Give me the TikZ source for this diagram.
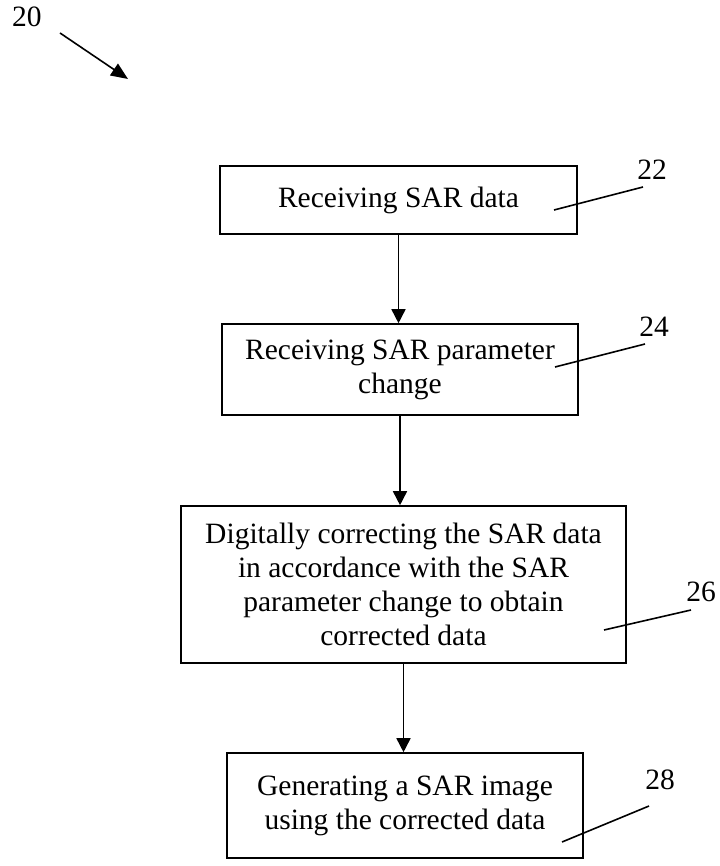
\documentclass[tikz,border=0pt]{standalone}
\usepackage{fontspec}
\setmainfont{Liberation Serif}
\usetikzlibrary{arrows.meta}
\begin{document}
\begin{tikzpicture}[x=1pt,y=-1pt,
  box/.style={draw, line width=1.6pt, align=center, inner sep=0pt,
    font=\fontsize{29.5}{34}\selectfont},
  lbl/.style={inner sep=0pt, font=\fontsize{29.5}{34}\selectfont},
  arr/.style={line width=1.6pt, -{Triangle[length=14pt,width=14pt]}},
  lead/.style={line width=1.6pt}]
\useasboundingbox (0,0) rectangle (719,866);

% boxes
\node[box, minimum width=357pt, minimum height=68pt] (b1) at (398.5,200) {Receiving SAR data};
\node[box, minimum width=356pt, minimum height=91pt] (b2) at (400,369.5) {Receiving SAR parameter\\change};
\node[box, minimum width=445pt, minimum height=157pt] (b3) at (403.5,584.5)
  {Digitally correcting the SAR data\\in accordance with the SAR\\parameter change to obtain\\corrected data};
\node[box, minimum width=356pt, minimum height=105pt] (b4) at (405,805.5) {Generating a SAR image\\using the corrected data};

% flow arrows
\draw[arr] (b1.south) -- (b1.south |- b2.north);
\draw[arr] (b2.south) -- (b2.south |- b3.north);
\draw[arr] (b3.south) -- (b3.south |- b4.north);

% reference numerals
\node[lbl] (l20) at (27,17) {20};
\coordinate (a20s) at (60,33);
\coordinate (a20e) at (128,79);
\draw[line width=1.6pt, -{Triangle[length=17pt,width=14pt]}] (a20s) -- (a20e);

\node[lbl] (l22) at (652,170) {22};
\coordinate (c22a) at (554,210);
\coordinate (c22b) at (643,187);
\draw[lead] (c22a) -- (c22b);

\node[lbl] (l24) at (654,327) {24};
\coordinate (c24a) at (555,367);
\coordinate (c24b) at (645,344);
\draw[lead] (c24a) -- (c24b);

\node[lbl] (l26) at (701,592) {26};
\coordinate (c26a) at (604,630);
\coordinate (c26b) at (691,610);
\draw[lead] (c26a) -- (c26b);

\node[lbl] (l28) at (660,780) {28};
\coordinate (c28a) at (562,842);
\coordinate (c28b) at (649,806);
\draw[lead] (c28a) -- (c28b);
\end{tikzpicture}
\end{document}
